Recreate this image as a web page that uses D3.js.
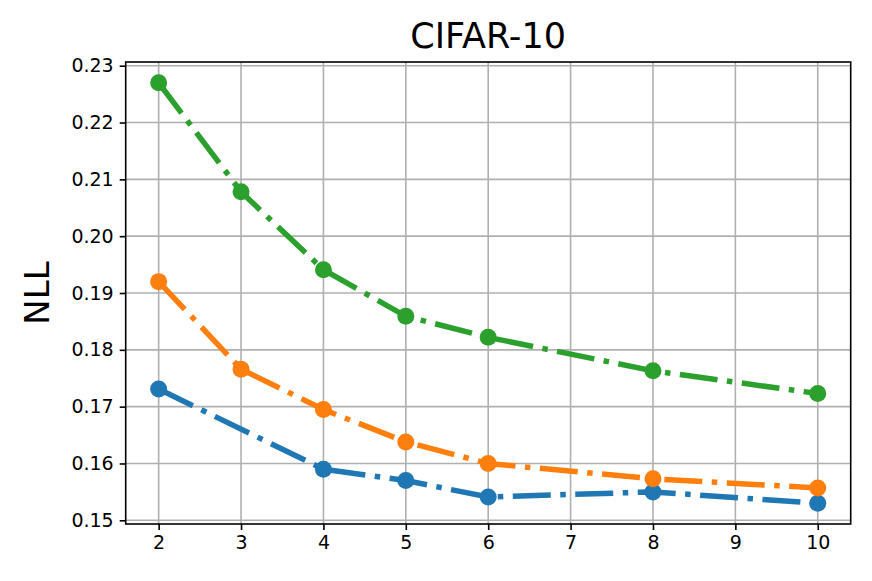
<!DOCTYPE html>
<html>
<head>
<meta charset="utf-8">
<script src="https://cdn.jsdelivr.net/npm/d3@7"></script>
<style>
  html, body { margin: 0; padding: 0; background: #fff; }
  text { font-family: "DejaVu Sans", sans-serif; }
</style>
</head>
<body>
<svg id="chart" width="872" height="581"></svg>
<script>
const title = "CIFAR-10";
const yLabel = "NLL";
const xTicks = [2, 3, 4, 5, 6, 7, 8, 9, 10];
const yTicks = [0.15, 0.16, 0.17, 0.18, 0.19, 0.20, 0.21, 0.22, 0.23];

const greenX = [2, 3, 4, 5, 6, 8, 10];
const greenY = [0.2270, 0.2078, 0.1941, 0.1859, 0.1822, 0.1763, 0.1723];
const orangeX = [2, 3, 4, 5, 6, 8, 10];
const orangeY = [0.1920, 0.1766, 0.1695, 0.1638, 0.1600, 0.1573, 0.1557];
const blueX = [2, 4, 5, 6, 8, 10];
const blueY = [0.1731, 0.1590, 0.1570, 0.1541, 0.1550, 0.1530];

const series = [
  { x: blueX, y: blueY, color: "#1f77b4" },
  { x: orangeX, y: orangeY, color: "#ff7f0e" },
  { x: greenX, y: greenY, color: "#2ca02c" }
];

const svg = d3.select("#chart");
const L = 125.7, R = 850.7, T = 62, B = 524;

const x = d3.scaleLinear().domain([1.6, 10.4]).range([L, R]);
const y = d3.scaleLinear().domain([0.14935, 0.23065]).range([B, T]);

// grid
const grid = svg.append("g");
grid.selectAll("line.vx").data(xTicks).join("line")
  .attr("x1", d => x(d)).attr("x2", d => x(d)).attr("y1", T).attr("y2", B)
  .attr("stroke", "#b0b0b0").attr("stroke-width", 1.6);
grid.selectAll("line.hy").data(yTicks).join("line")
  .attr("y1", d => y(d)).attr("y2", d => y(d)).attr("x1", L).attr("x2", R)
  .attr("stroke", "#b0b0b0").attr("stroke-width", 1.6);

// axes
const xAxis = d3.axisBottom(x).tickValues(xTicks).tickFormat(d3.format("d")).tickSize(6).tickPadding(6);
const yAxis = d3.axisLeft(y).tickValues(yTicks).tickFormat(d3.format(".2f")).tickSize(6).tickPadding(6);

const gx = svg.append("g").attr("transform", `translate(0,${B})`).call(xAxis);
const gy = svg.append("g").attr("transform", `translate(${L},0)`).call(yAxis);
[gx, gy].forEach(g => {
  g.select(".domain").remove();
  g.selectAll(".tick line").attr("stroke", "#000").attr("stroke-width", 1.6);
  g.selectAll(".tick text").attr("font-size", 19).attr("fill", "#000")
    .style("font-family", "'DejaVu Sans', sans-serif");
});

// lines + markers
const line = d3.line().x(d => x(d[0])).y(d => y(d[1]));
series.forEach(s => {
  const pts = s.x.map((v, i) => [v, s.y[i]]);
  svg.append("path").datum(pts)
    .attr("d", line)
    .attr("fill", "none")
    .attr("stroke", s.color)
    .attr("stroke-width", 5.5)
    .attr("stroke-dasharray", "38,9.5,5.5,9.5");
  svg.append("g").selectAll("circle").data(pts).join("circle")
    .attr("cx", d => x(d[0])).attr("cy", d => y(d[1])).attr("r", 8.5)
    .attr("fill", s.color);
});

// frame
svg.append("rect").attr("x", L).attr("y", T).attr("width", R - L).attr("height", B - T)
  .attr("fill", "none").attr("stroke", "#000").attr("stroke-width", 1.6);

// title
svg.append("text").attr("x", (L + R) / 2).attr("y", 48)
  .attr("text-anchor", "middle").attr("font-size", 35).attr("fill", "#000")
  .text(title);

// y label
svg.append("text")
  .attr("transform", `translate(49,${(T + B) / 2}) rotate(-90)`)
  .attr("text-anchor", "middle").attr("font-size", 34).attr("fill", "#000")
  .text(yLabel);
</script>
</body>
</html>
